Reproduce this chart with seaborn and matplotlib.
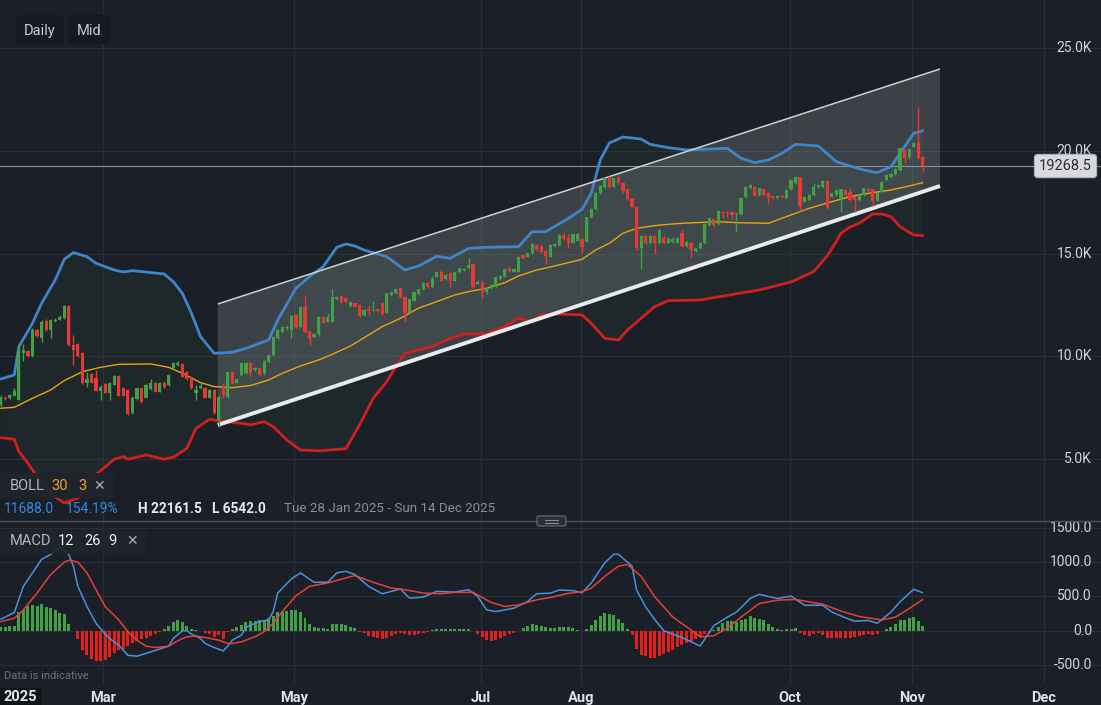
import matplotlib
matplotlib.use("Agg")
import matplotlib.pyplot as plt
import matplotlib.transforms as mtransforms
from matplotlib.patches import FancyBboxPatch, Polygon
import numpy as np
import pandas as pd
import seaborn as sns

# ---------------- data (daily candles, index 0 = Tue 28 Jan 2025) ----------------
opens = [7650,7980,7960,8090,7880,10150,10260,10020,11280,10880,
         11740,11280,11700,11790,11850,12450,10550,10600,10150,8720,
         9140,8930,8330,8650,8230,8610,9040,8440,8360,7260,
         7910,8440,7990,8390,8720,8280,8690,8600,9420,9600,
         9630,9260,9010,8200,8440,8460,7990,8360,6900,8520,
         8040,9255,8720,9093,9200,9690,9330,9420,9170,9740,
         10067,10880,11200,11400,11300,12015,11413,12420,11250,10930,
         11073,11933,11690,11690,12780,12940,12830,12450,12580,12500,
         12015,12290,12225,12290,12615,12128,12990,13069,13310,12907,
         12128,12712,13040,13264,13589,13361,13880,14125,13752,14076,
         13687,14125,14206,14287,14498,13524,13606,13151,13313,13395,
         13752,13881,14250,14125,14125,14936,14855,15018,15423,15375,
         15148,14855,15375,15423,15910,15748,15537,15634,15699,15586,
         16803,17160,17939,18231,18718,18231,18669,18458,18134,17696,
         17290,15261,15862,15505,15862,15505,15829,15537,15560,15537,
         15992,15375,15537,15148,15262,15505,16398,16674,16447,17047,
         17047,17047,16933,16933,17745,18183,18264,17859,18134,17940,
         17810,17696,17810,17696,18134,18427,18719,17534,17615,17859,
         18232,18232,18540,17777,17859,17696,18102,18021,17777,17615,
         17859,18167,18134,17583,18021,18589,18719,18881,19076,20050,
         19693,20212,20407,19725]
highs = [8100,8050,8180,8440,10640,10600,10300,11400,11350,11750,
         11800,11800,11850,12000,12480,12500,11030,10650,10200,9250,
         9200,9340,8600,8700,8750,9080,9080,8480,8400,8050,
         8480,8480,8650,8880,8760,8760,8800,9120,9740,9750,
         9680,9300,9050,8600,8700,8500,8400,8400,8100,8700,
         9300,9300,8950,9700,9720,9740,9500,9450,9800,10100,
         11000,11350,11500,11550,12000,12050,12450,12940,11300,11150,
         11980,11980,12100,13264,12950,12980,12870,12700,12620,12540,
         12300,12480,12700,12320,12650,13100,13200,13300,13350,12950,
         12800,13200,13300,13620,13620,13900,14150,14250,14000,14100,
         14150,14320,14300,14774,14550,13700,13650,13350,13520,13920,
         13950,14280,14400,14280,14900,14970,15050,15500,15460,15420,
         15180,15460,15520,15950,16070,15950,16000,16000,15750,16800,
         17200,17980,18350,18700,18760,18700,18830,18490,18170,17730,
         17320,15900,15900,15900,15900,16200,15860,15800,15800,15800,
         16150,15620,15570,15300,15570,16480,16760,16710,17130,17080,
         17080,17080,16990,17760,18300,18400,18300,18220,18170,17980,
         17850,17850,17850,18150,18650,18780,18750,17780,17900,18450,
         18400,18600,18580,17980,18140,18170,18140,18200,17810,17890,
         18220,18200,18170,18000,18540,18870,18920,19150,20200,20080,
         20120,20450,22161.5,19760]
lows = [7550,7850,7930,8050,7850,9750,9980,9980,10950,10720,
        11250,10900,11650,11750,11800,10500,9580,9950,8650,8530,
        8680,8300,7880,8200,7850,8580,8050,8050,7150,7200,
        7880,7750,7950,8350,8250,8250,8480,8560,9400,9550,
        8980,8850,8400,7880,8400,7950,7950,7200,6542,7950,
        7980,8650,8700,9050,9150,9050,9300,9050,9100,9700,
        10030,10850,11150,11300,10900,11380,11380,11150,10500,10900,
        11000,11600,11650,11650,12750,12620,12600,12400,12380,11930,
        11980,12020,12200,12180,12030,12100,12950,13030,12840,11690,
        12100,12680,13000,13230,13350,13330,13850,13650,13700,13400,
        13650,14050,14150,14250,13330,13500,12827,13050,13280,13350,
        13720,13850,14100,14090,14090,14740,14820,14990,15150,15050,
        14498,14820,15340,15390,15680,15300,15500,15600,15050,15550,
        16750,17120,17900,18200,18200,18200,18400,17939,17600,17250,
        15200,14239,15450,15450,14986,15450,15450,15500,15500,15500,
        15340,15340,14775,15100,15230,15470,16360,16360,16410,16750,
        16800,16700,16106,16900,17700,18150,17790,17830,17830,17400,
        17650,17650,17700,17650,18100,18400,17100,17500,17580,17830,
        18200,18200,17170,17750,17830,17047,17830,17580,17047,17580,
        17830,18040,17323,17550,17990,18550,18690,18850,19040,19400,
        19600,20180,19600,18970]
closes = [8000,7930,8120,8310,10260,10300,10020,11280,10990,11690,
          11280,11770,11780,11900,12450,10550,10300,10020,8720,8880,
          8720,8330,8525,8230,8720,9040,8090,8090,7180,7990,
          8440,7790,8600,8720,8280,8720,8520,9090,9660,9670,
          9010,8900,8440,8360,8560,7990,8360,7230,8040,8100,
          9255,8690,8880,9661,9690,9200,9420,9090,9775,10067,
          10960,11284,11446,11430,11966,11413,12420,11203,10846,11070,
          11933,11640,11900,12874,12907,12660,12630,12660,12420,11966,
          12258,12225,12260,12225,12063,13069,13150,13264,12874,12128,
          12777,13150,13264,13589,13394,13751,14092,13687,13963,13687,
          14125,14287,14250,14450,13362,13638,13151,13313,13476,13881,
          13914,14239,14180,14239,14855,14774,15018,15456,15180,15099,
          14904,15423,15472,15910,15715,15537,15959,15959,15310,16770,
          17160,17939,18296,18669,18231,18669,18426,18069,17647,17290,
          15261,15862,15505,15862,15505,16154,15505,15700,15700,15749,
          15375,15586,15181,15262,15537,16447,16723,16398,17096,16966,
          16966,16885,16950,17729,18232,18345,17826,18183,17859,17696,
          17696,17810,17745,18102,18589,18751,17323,17745,17859,18264,
          18345,18540,17209,17940,18102,18134,17859,17615,17615,17859,
          18183,18069,17583,17972,18508,18832,18881,19108,20131,19644,
          20082,20407,19644,19268.5]

# Bollinger (30, 3): candle index -> value
boll_upper_idx = [0,3,4,7,9,12,14,16,19,21,25,27,29,36,38,40,42,44,47,51,54,59,61,65,68,
                  71,74,76,78,80,85,89,92,96,99,103,107,114,117,120,125,128,130,132,134,
                  137,141,143,147,151,160,163,166,169,172,175,180,184,187,190,193,196,198,201,203]
boll_upper_val = [8898,9093,10472,11609,12582,13719,14725,15049,14855,14530,14205,14108,14173,14011,13638,
                  13069,12095,10959,10148,10197,10391,10797,11771,13313,13881,14368,15309,15471,15374,15179,
                  14855,14205,14400,14870,14774,15261,15310,15342,16072,16072,16722,17160,17939,19562,20390,
                  20682,20584,20325,20163,20050,20131,19644,19433,19563,19887,20325,20244,19481,19270,19076,
                  18946,19238,19887,20861,20991]
boll_lower_idx = [0,3,4,6,8,11,14,17,20,22,25,27,28,32,36,38,41,43,46,48,53,55,58,60,63,
                  66,70,76,79,82,85,87,89,92,95,99,102,107,111,114,117,119,123,128,130,
                  133,136,138,141,144,147,154,163,167,174,175,179,182,184,185,187,189,192,194,196,198,201,203]
boll_lower_val = [6042,5961,5360,4792,4143,3300,2858,3100,4062,4435,4987,5117,4987,5198,4987,
                  5084,5523,6496,6934,6853,6740,6659,6821,6577,5928,5438,5400,5500,6656,7950,
                  8768,9499,10148,10310,10473,10878,11090,11090,11447,11853,11690,12015,12064,12015,11610,
                  10879,10798,11285,11853,12421,12713,12744,13085,13231,13620,13720,14126,14900,15600,16000,
                  16300,16480,16933,16933,16804,16317,15911,15879]
boll_mid_idx = [0,3,7,11,14,18,22,26,33,37,40,44,47,51,55,59,62,66,70,73,77,81,84,88,92,
                96,100,103,107,111,114,118,122,125,128,131,134,137,140,144,147,150,158,162,169,
                174,178,183,187,191,196,200,203]
boll_mid_val = [7470,7519,7957,8363,8817,9255,9466,9612,9629,9466,9174,8720,8525,8477,8580,
                8849,9174,9531,9823,10100,10500,11040,11450,11850,12350,12664,12989,13151,13313,13589,
                13914,14206,14401,14563,14725,15180,15505,15992,16235,16365,16430,16479,16560,16511,16479,
                16885,17209,17534,17777,17940,18102,18297,18459]

# Trend channel drawn on the chart (candle index, price)
channel_idx = [47.8, 206.8]
channel_upper = [12549, 23993]
channel_lower = [6656, 18296]

# MACD (12, 26, 9)
macd_idx = [0,3,5,7,9,11,13,15,16,17,19,21,23,24,26,27,28,30,33,37,38,40,41,42,44,
            45,47,49,50,51,53,54,56,57,59,60,61,64,66,69,72,74,76,78,81,84,86,88,90,93,
            96,100,103,105,107,109,113,116,118,121,123,126,128,130,133,135,136,139,140,142,
            144,146,150,154,155,157,160,162,165,167,171,174,177,181,183,186,188,191,193,196,198,201,203]
macd_val = [167,265,647,843,1039,1112,1225,1112,941,647,353,108,-49,-113,-211,-284,-358,-372,-309,-225,
            -113,0,0,-49,-113,-186,-245,-294,-225,-137,-64,49,108,132,157,279,549,755,843,706,
            706,843,867,818,647,539,573,608,475,490,573,563,598,500,304,279,328,426,539,547,
            594,584,554,693,990,1114,1114,941,594,347,163,0,-99,-223,-124,74,198,272,470,530,
            470,505,371,371,272,188,139,149,109,272,421,604,554]
signal_idx = [0,3,5,8,11,14,15,17,19,21,23,26,28,30,32,34,37,39,41,43,45,48,50,51,53,
              56,58,60,62,65,68,72,76,78,82,86,89,93,97,100,104,108,111,114,118,121,125,128,130,133,
              136,138,141,144,148,152,154,157,160,163,167,171,175,181,185,189,194,197,200,203]
signal_val = [132,181,304,549,818,1000,1029,1000,843,598,353,157,-15,-137,-225,-245,-225,-147,-88,-78,
              -98,-137,-186,-186,-162,-88,-15,108,279,510,647,696,769,804,706,622,598,549,539,559,
              559,412,353,377,451,485,545,569,619,792,941,965,792,495,198,10,-89,-74,40,198,
              396,446,455,386,287,208,158,198,322,455]
hist_val = [59,59,64,70,280,304,353,368,363,387, 350,328,304,265,245,93,-5,-127,-284,-358,
            -407,-438,-446,-431,-380,-330,-284,-260,-225,-186, -155,-125,-100,-70,-45,-20,20,69,132,157,
            132,65,30,8,-10,-35,-49,-90,-64,-127, -20,20,55,90,120,142,147,150,160,185,
            216,270,279,290,304,300,279,181,98,49, 44,35,25,93,98,95,80,60,34,-15,
            -40,-70,-85,-105,-122,-100,-80,-50,-35,-50, -64,-60,-45,-30,-15,10,25,29,20,20,
            20,20,20,20,-10,-50,-88,-137,-152,-130, -100,-80,-55,-35,-10,34,69,95,90,70,
            55,40,45,59,59,50,35,10,-10,25, 89,158,208,257,238,223,170,110,30,-60,
            -260,-347,-375,-396,-400,-368,-340,-315,-275,-240, -210,-185,-155,-115,-85,-55,-35,15,55,110,
            139,139,124,158,173,208,188,170,149,95, 55,22,12,22,30,35,-30,-60,-70,-55,
            -35,-60,-110,-100,-99,-105,-100,-99,-92,-78, -64,-52,-59,-50,-10,25,59,100,149,160,
            180,198,140,74]

price_ticks = [5000, 10000, 15000, 20000, 25000]
price_tick_labels = ["5.0K", "10.0K", "15.0K", "20.0K", "25.0K"]
macd_ticks = [-500, 0, 500, 1000, 1500]
macd_tick_labels = ["-500.0", "0.0", "500.0", "1000.0", "1500.0"]
month_labels = ["Mar", "May", "Jul", "Aug", "Oct", "Nov", "Dec"]
month_pos = [22.63, 64.57, 105.75, 127.76, 173.78, 200.64, 229.7]
last_price = 19268.5

# ---------------- style ----------------
W, H = 1101, 705
BG = "#1b1f27"
GRID = "#2a2e37"
TXT = "#d1d4dc"
GREEN = "#43a047"
RED = "#e53935"
BAND_BLUE = "#3f86c9"
BAND_RED = "#d0201f"
BAND_MID = "#e8a317"
MACD_BLUE = "#4a92dc"
SIG_RED = "#e5403a"

sns.set_theme(style="dark", rc={"axes.facecolor": BG, "figure.facecolor": BG,
                                "axes.edgecolor": BG, "text.color": TXT,
                                "xtick.color": TXT, "ytick.color": TXT})
plt.rcParams["font.family"] = ["Roboto", "DejaVu Sans"]

fig = plt.figure(figsize=(W / 100, H / 100), dpi=100, facecolor=BG)
ax = fig.add_axes([0, 184 / H, 1, 521 / H])
ax2 = fig.add_axes([0, 20 / H, 1, 164 / H])

XL = (-0.15, 242.25)
for a in (ax, ax2):
    a.set_facecolor(BG)
    a.set_xlim(*XL)
    for s in a.spines.values():
        s.set_visible(False)
    a.grid(False)
ax.set_ylim(1981, 27354)
ax2.set_ylim(-791, 1599)

# grid
for v in price_ticks:
    ax.axhline(v, color=GRID, lw=0.9, zorder=0)
for v in macd_ticks:
    ax2.axhline(v, color=GRID, lw=0.9, zorder=0)
for p in month_pos:
    ax.axvline(p, color=GRID, lw=0.9, zorder=0)
    ax2.axvline(p, color=GRID, lw=0.9, zorder=0)

# Bollinger fill
poly = np.column_stack([np.r_[boll_upper_idx, boll_lower_idx[::-1]],
                        np.r_[boll_upper_val, boll_lower_val[::-1]]])
ax.add_patch(Polygon(poly, closed=True, fc="#2a4a3a", alpha=0.22, lw=0, zorder=1))

# channel fill
ch = np.array([[channel_idx[0], channel_upper[0]], [channel_idx[1], channel_upper[1]],
               [channel_idx[1], channel_lower[1]], [channel_idx[0], channel_lower[0]]])
ax.add_patch(Polygon(ch, closed=True, fc="#ffffff", alpha=0.15, lw=0, zorder=2))

# Bollinger lines
ub = pd.DataFrame({"i": boll_upper_idx, "v": boll_upper_val})
lb = pd.DataFrame({"i": boll_lower_idx, "v": boll_lower_val})
mb = pd.DataFrame({"i": boll_mid_idx, "v": boll_mid_val})
sns.lineplot(data=ub, x="i", y="v", ax=ax, color=BAND_BLUE, lw=2.0, zorder=3)
sns.lineplot(data=lb, x="i", y="v", ax=ax, color=BAND_RED, lw=2.0, zorder=3)
sns.lineplot(data=mb, x="i", y="v", ax=ax, color=BAND_MID, lw=1.0, zorder=3)

# channel lines
ax.plot(channel_idx, channel_upper, color="#cfd1d4", lw=1.1, zorder=3.6, solid_capstyle="butt")
ax.plot(channel_idx, channel_lower, color="#e9eaec", lw=2.8, zorder=3.6, solid_capstyle="butt")

# last price line
ax.axhline(last_price, color="#8d9199", lw=0.8, zorder=2.5)

# candles
df = pd.DataFrame({"o": opens, "h": highs, "l": lows, "c": closes})
df["i"] = np.arange(len(df))
col = np.where(df["c"] >= df["o"], GREEN, RED)
ax.vlines(df["i"], df["l"], df["h"], colors=col, lw=1.0, zorder=4)
body_lo = np.minimum(df["o"], df["c"])
body_h = np.maximum((df["c"] - df["o"]).abs(), 45)
ax.bar(df["i"], body_h, bottom=body_lo, width=0.7, color=col, lw=0, zorder=5)

# MACD panel
hx = np.arange(len(hist_val))
hcol = np.where(np.array(hist_val) >= 0, GREEN, "#e3201c")
ax2.bar(hx, hist_val, width=0.66, color=hcol, lw=0, zorder=2)
md = pd.DataFrame({"i": macd_idx, "v": macd_val})
sg = pd.DataFrame({"i": signal_idx, "v": signal_val})
sns.lineplot(data=md, x="i", y="v", ax=ax2, color=MACD_BLUE, lw=1.1, zorder=3)
sns.lineplot(data=sg, x="i", y="v", ax=ax2, color=SIG_RED, lw=1.1, zorder=3)

for a in (ax, ax2):
    a.set_xlabel("")
    a.set_ylabel("")
    a.set_yticks([])
ax.set_xticks([])
ax2.set_xticks(month_pos)
ax2.set_xticklabels(month_labels, fontsize=10.5, fontweight="semibold", color="#dfe2e7")
ax2.tick_params(axis="x", length=0, pad=4)

# y labels (inside, right)
bt = mtransforms.blended_transform_factory(ax.transAxes, ax.transData)
for v, s in zip(price_ticks, price_tick_labels):
    ax.text(1092 / W, v, s, transform=bt, ha="right", va="center", fontsize=10, color=TXT, zorder=6)
bt2 = mtransforms.blended_transform_factory(ax2.transAxes, ax2.transData)
for v, s in zip(macd_ticks, macd_tick_labels):
    ax2.text(1092 / W, v, s, transform=bt2, ha="right", va="center", fontsize=10, color=TXT, zorder=6)

# last price tag
ax.text(1065.5 / W, last_price, f"{last_price:.1f}", transform=bt, ha="center", va="center",
        fontsize=10.5, color="#2a2d33", zorder=8,
        bbox=dict(boxstyle="round,pad=0.32,rounding_size=0.25", fc="#d8dade", ec="#aeb1b7", lw=0.8))

# ---------------- overlay UI elements (pixel coords, top-left origin) ----------------
ID = mtransforms.IdentityTransform()


def box(x0, y0, x1, y1, fc, ec="none", r=3, alpha=1.0, z=10):
    p = FancyBboxPatch((x0, H - y1), x1 - x0, y1 - y0,
                       boxstyle=f"round,pad=0,rounding_size={r}",
                       fc=fc, ec=ec, lw=0.8, alpha=alpha, transform=ID, zorder=z)
    fig.patches.append(p)


def txt(x, y, s, color, size=10, weight="normal", ha="left"):
    fig.text(x / W, 1 - y / H, s, color=color, fontsize=size, fontweight=weight,
             ha=ha, va="center", zorder=12)


box(16, 15, 64, 44, "#16191f")
box(68, 15, 110, 44, "#16191f")
txt(40, 31, "Daily", "#c9ccd2", 10.5, ha="center")
txt(89, 31, "Mid", "#c9ccd2", 10.5, ha="center")

box(0, 473, 114, 498, "#20242c", alpha=0.9)
txt(10, 486, "BOLL", "#b4b7be", 10.5)
txt(51, 486, "30", "#f0a020", 10.5)
txt(78, 486, "3", "#f0a020", 10.5)
txt(93, 486, "\u2715", "#aeb1b8", 10)
txt(4, 509, "11688.0", "#2f8ae4", 10)
txt(66, 509, "154.19%", "#2f8ae4", 10)
txt(138, 509, "H 22161.5", "#e6e8eb", 9.8, "semibold")
txt(212, 509, "L 6542.0", "#e6e8eb", 9.8, "semibold")
txt(284, 509, "Tue 28 Jan 2025 - Sun 14 Dec 2025", "#8a8e96", 9.6)

# panel separator
fig.add_artist(plt.Line2D([0, 1], [1 - 521 / H, 1 - 521 / H], transform=fig.transFigure,
                          color="#4d515a", lw=1.0, zorder=9))
box(537, 516, 566, 526, "#2a2e38", ec="#6a6e77", r=2, z=11)
fig.add_artist(plt.Line2D([545 / W, 558 / W], [1 - 520 / H, 1 - 520 / H], transform=fig.transFigure,
                          color="#8a8e96", lw=0.8, zorder=12))
fig.add_artist(plt.Line2D([545 / W, 558 / W], [1 - 522.5 / H, 1 - 522.5 / H], transform=fig.transFigure,
                          color="#8a8e96", lw=0.8, zorder=12))

box(0, 529, 146, 554, "#20242c", alpha=0.9)
txt(10, 541, "MACD", "#b4b7be", 10.5)
txt(58, 541, "12", "#eef0f2", 10.5)
txt(84, 541, "26", "#eef0f2", 10.5)
txt(108, 541, "9", "#eef0f2", 10.5)
txt(126, 541, "\u2715", "#aeb1b8", 10)

txt(4, 676, "Data is indicative", "#6c7079", 8)

box(0, 688, 42, 706, "#111419", r=2)
txt(20, 697, "2025", "#e4e6ea", 10.5, "bold", ha="center")

fig.savefig("out.png", dpi=100, facecolor=BG)
